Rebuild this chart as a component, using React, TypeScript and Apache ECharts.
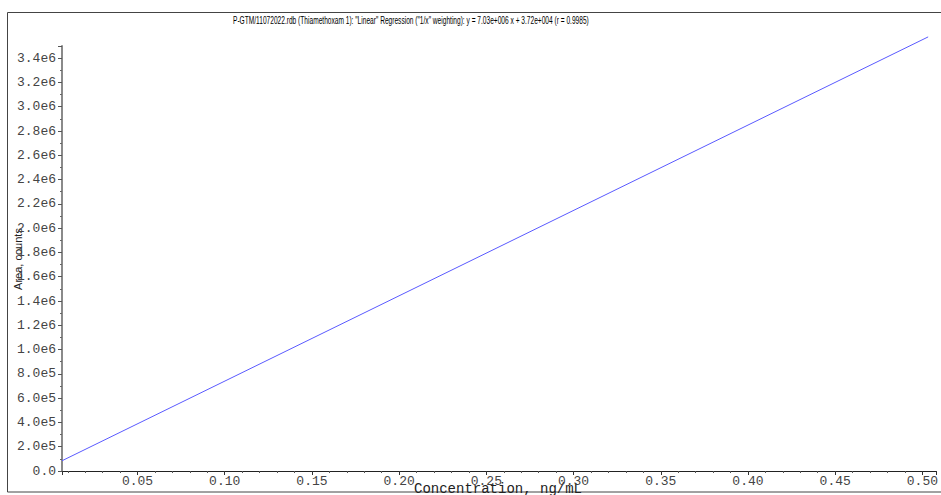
import React, { useEffect, useRef } from "react";
import * as echarts from "echarts";

const TITLE =
  'P-GTM/11072022.rdb (Thiamethoxam 1): "Linear" Regression ("1/x" weighting): y = 7.03e+006 x + 3.72e+004 (r = 0.9985)';
const X_NAME = "Concentration, ng/mL";
const Y_NAME = "Area, counts";

// Regression line end points
const concentrations = [0.0067, 0.5033];
const areas = [84300, 3575000];

const X_MIN = 0.0067;
const X_MAX = 0.5078;
const Y_MIN = 0;
const Y_MAX = 3.5e6;
const Y_STEP = 2e5;

function fmtY(v: number): string {
  if (Math.abs(v - Math.round(v / Y_STEP) * Y_STEP) > 1) return "";
  if (v > 3.41e6) return "";
  if (v === 0) return "0.0";
  const e = Math.floor(Math.log10(v) + 1e-9);
  const m = v / Math.pow(10, e);
  return m.toFixed(1) + "e" + e;
}

function fmtX(v: number): string {
  const k = Math.round(v / 0.05);
  if (Math.abs(v - k * 0.05) > 1e-6 || k <= 0) return "";
  return (k * 0.05).toFixed(2);
}

export default function App() {
  const ref = useRef<HTMLDivElement>(null);
  useEffect(() => {
    if (!ref.current) return;
    const chart = echarts.init(ref.current, null, { renderer: "svg" });
    chart.setOption({
      animation: false,
      backgroundColor: "#ffffff",
      grid: { left: 62, right: 0, top: 46, bottom: 24, containLabel: false },
      xAxis: {
        type: "value",
        min: X_MIN,
        max: X_MAX,
        splitNumber: 10,
        axisLine: { show: true, onZero: false, lineStyle: { color: "#222", width: 1 } },
        axisTick: { show: true, length: 4, lineStyle: { color: "#333" } },
        minorTick: { show: true, splitNumber: 5, length: 2, lineStyle: { color: "#555" } },
        splitLine: { show: false },
        axisLabel: {
          formatter: fmtX,
          fontFamily: "Liberation Mono",
          fontSize: 13,
          color: "#444",
          margin: 4,
          showMinLabel: false,
          showMaxLabel: false,
        },
      },
      yAxis: {
        type: "value",
        min: Y_MIN,
        max: Y_MAX,
        interval: Y_STEP,
        axisLine: { show: true, lineStyle: { color: "#8a8a8a", width: 2 } },
        axisTick: { show: true, length: 4, lineStyle: { color: "#555" } },
        minorTick: { show: true, splitNumber: 2, length: 2, lineStyle: { color: "#666" } },
        splitLine: { show: false },
        axisLabel: {
          formatter: fmtY,
          fontFamily: "Liberation Mono",
          fontSize: 13,
          color: "#444",
          margin: 6,
        },
      },
      series: [
        {
          type: "line",
          data: concentrations.map((c, i) => [c, areas[i]]),
          showSymbol: false,
          clip: false,
          lineStyle: { color: "#5a5aff", width: 1 },
        },
      ],
      graphic: [
        {
          type: "rect",
          silent: true,
          shape: { x: 7.5, y: 12.5, width: 1000, height: 479.5 },
          style: { fill: "none", stroke: "#444", lineWidth: 1 },
        },
        {
          type: "text",
          x: 233,
          y: 20,
          scaleX: 0.6,
          style: {
            text: TITLE,
            fontFamily: "Liberation Sans",
            fontSize: 11,
            fill: "#000",
            verticalAlign: "middle",
            align: "left",
          },
        },
        {
          type: "text",
          x: 18,
          y: 259,
          rotation: Math.PI / 2,
          style: {
            text: Y_NAME,
            fontFamily: "Liberation Sans",
            fontSize: 11,
            fill: "#222",
            align: "center",
            verticalAlign: "middle",
          },
        },
        {
          type: "text",
          x: 498,
          y: 489,
          style: {
            text: X_NAME,
            fontFamily: "Liberation Mono",
            fontSize: 14,
            fill: "#222",
            align: "center",
            verticalAlign: "middle",
          },
        },
      ],
    });
    return () => chart.dispose();
  }, []);
  return (
    <div
      ref={ref}
      style={{ position: "fixed", left: 0, top: 0, width: 941, height: 495, background: "#fff" }}
    />
  );
}
